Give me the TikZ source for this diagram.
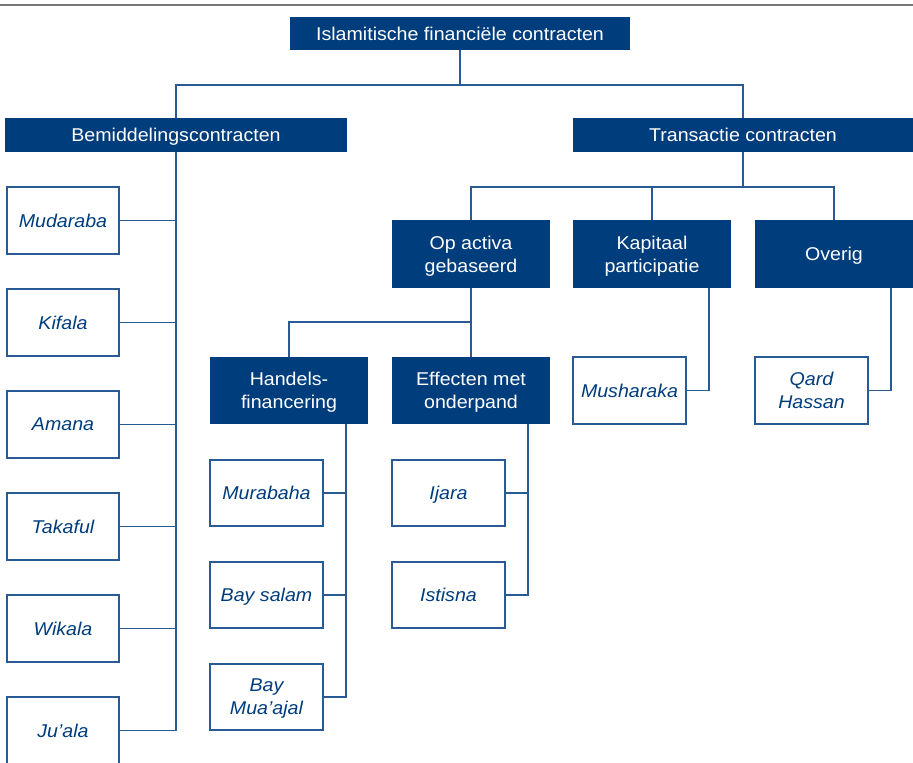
\documentclass[tikz,border=0pt]{standalone}
\usepackage{fontspec}
\setmainfont{Liberation Sans}[FakeStretch=1.06]
\definecolor{navy}{RGB}{0,61,124}
\definecolor{linec}{RGB}{40,90,150}
\definecolor{rulegray}{RGB}{120,120,120}
\begin{document}
\begin{tikzpicture}[x=1pt,y=-1pt,
  every node/.style={inner sep=0pt, align=center, text depth=0pt, font=\fontsize{18.5}{23}\selectfont},
  dark/.style={fill=navy, text=white},
  leaf/.style={draw=linec, line width=1.2pt, fill=white, text=navy, font=\fontsize{18.5}{23}\selectfont\itshape, minimum width=112pt, minimum height=67pt},
  conn/.style={draw=linec, line width=1.2pt}]
\useasboundingbox (0,0) rectangle (913,763);
\draw[rulegray, line width=2pt] (0,5) -- (913,5);
% dark boxes
\node[dark, minimum width=340pt, minimum height=33pt] (top) at (460,33.5) {Islamitische financiële contracten};
\node[dark, minimum width=342pt, minimum height=34pt] (bem) at (176,135) {Bemiddelingscontracten};
\node[dark, minimum width=340pt, minimum height=34pt] (trans) at (743,135) {Transactie contracten};
\node[dark, minimum width=158pt, minimum height=68pt] (opact) at (471,254) {Op activa\\gebaseerd};
\node[dark, minimum width=158pt, minimum height=68pt] (kap) at (652,254) {Kapitaal\\participatie};
\node[dark, minimum width=158pt, minimum height=68pt] (overig) at (834,254) {Overig};
\node[dark, minimum width=158pt, minimum height=67pt] (handels) at (289,390.5) {Handels-\\financering};
\node[dark, minimum width=158pt, minimum height=67pt] (effect) at (471,390.5) {Effecten met\\onderpand};
% leaves left
\node[leaf] (mud) at (63,220.5) {Mudaraba};
\node[leaf] (kif) at (63,322.5) {Kifala};
\node[leaf] (ama) at (63,424.5) {Amana};
\node[leaf] (tak) at (63,526.5) {Takaful};
\node[leaf] (wik) at (63,628.5) {Wikala};
\node[leaf] (jua) at (63,730.5) {Ju’ala};
% leaves handels
\node[leaf, minimum width=113pt, minimum height=66pt] (mur) at (266.5,493) {Murabaha};
\node[leaf, minimum width=113pt, minimum height=66pt] (bays) at (266.5,595) {Bay salam};
\node[leaf, minimum width=113pt, minimum height=66pt] (baym) at (266.5,697) {Bay\\Mua’ajal};
% leaves effecten
\node[leaf, minimum width=113pt, minimum height=66pt] (ija) at (448.5,493) {Ijara};
\node[leaf, minimum width=113pt, minimum height=66pt] (ist) at (448.5,595) {Istisna};
% others
\node[leaf, minimum width=113pt, minimum height=67pt] (mus) at (629.5,390.5) {Musharaka};
\node[leaf, minimum width=113pt, minimum height=67pt] (qard) at (811.5,390.5) {Qard\\Hassan};
% junction coordinates
\coordinate (j1) at (460,85);
\coordinate (j2) at (743,187);
\coordinate (j3) at (471,322);
\coordinate (hv) at (346,0);
\coordinate (ev) at (528,0);
\coordinate (kv) at (709,0);
\coordinate (ov) at (891,0);
% connectors
\draw[conn] (top.south) -- (j1);
\draw[conn] (bem.north) |- (j1) -| (trans.north);
\draw[conn] (bem.south) -- (bem.south |- jua.east) -- (jua.east);
\foreach \n in {mud,kif,ama,tak,wik} \draw[conn] (\n.east) -- (\n.east -| bem.south);
\draw[conn] (trans.south) -- (j2);
\draw[conn] (opact.north) |- (j2) -| (overig.north);
\draw[conn] (kap.north) -- (kap.north |- j2);
\draw[conn] (opact.south) -- (effect.north);
\draw[conn] (handels.north) |- (j3);
\draw[conn] (handels.south -| hv) -- (baym.east -| hv) -- (baym.east);
\foreach \n in {mur,bays} \draw[conn] (\n.east) -- (\n.east -| hv);
\draw[conn] (effect.south -| ev) -- (ist.east -| ev) -- (ist.east);
\draw[conn] (ija.east) -- (ija.east -| ev);
\draw[conn] (kap.south -| kv) |- (mus.east);
\draw[conn] (overig.south -| ov) |- (qard.east);
\end{tikzpicture}
\end{document}
